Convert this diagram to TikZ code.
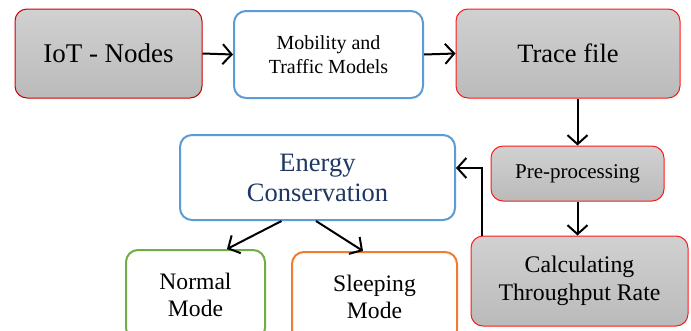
\documentclass[tikz,border=0pt]{standalone}
\usepackage{fontspec}
\setmainfont{Liberation Serif}
\usetikzlibrary{arrows.meta,calc}

\definecolor{boxred}{rgb}{0.8,0.0,0.0}
\definecolor{brightred}{rgb}{1.0,0.1,0.1}
\definecolor{boxblue}{rgb}{0.36,0.61,0.84}
\definecolor{textblue}{rgb}{0.12,0.22,0.39}
\definecolor{boxgreen}{rgb}{0.44,0.68,0.28}
\definecolor{boxorange}{rgb}{0.93,0.49,0.19}

\tikzset{every picture/.style={line width=0.75pt}}
\tikzset{
  graybox/.style={draw=brightred, line width=1pt, rounded corners=12pt, top color=black!18, bottom color=black!27, align=center, inner sep=0pt},
  whitebox/.style={line width=2pt, rounded corners=12pt, fill=white, align=center, inner sep=0pt},
  flow/.style={line width=2pt, -{Straight Barb[length=9pt,width=20pt,line width=2pt]}}
}

\begin{document}
\begin{tikzpicture}[x=1pt,y=1pt,yscale=-1,xscale=1]
\useasboundingbox (0,0) rectangle (691,330);

% Top row
\node (iot) [graybox, draw=boxred, minimum width=187pt, minimum height=89pt, font=\fontsize{27}{30}\selectfont] at (108.5,53.5) {IoT - Nodes};
\node (mobility) [whitebox, draw=boxblue, minimum width=189pt, minimum height=87pt, font=\fontsize{20}{24}\selectfont] at (328.5,54.5) {Mobility and\\Traffic Models};
\node (trace) [graybox, minimum width=224pt, minimum height=89pt, font=\fontsize{26.5}{30}\selectfont] at (568,53.5) {Trace file};

% Right column
\node (prep) [graybox, minimum width=173pt, minimum height=55pt, font=\fontsize{21}{24}\selectfont] at (577.5,173.5) {Pre-processing};
\node (calc) [graybox, minimum width=217pt, minimum height=90pt, font=\fontsize{23.8}{28}\selectfont] at (579.5,281) {Calculating\\Throughput Rate};

% Energy part
\node (energy) [whitebox, draw=boxblue, text=textblue, minimum width=275pt, minimum height=85pt, font=\fontsize{26.5}{30}\selectfont] at (317.5,177.5) {Energy\\Conservation};
\node (normal) [whitebox, draw=boxgreen, minimum width=139pt, minimum height=90pt, font=\fontsize{23.6}{27}\selectfont] at (195.5,295) {Normal\\Mode};
\node (sleeping) [whitebox, draw=boxorange, minimum width=165pt, minimum height=90pt, font=\fontsize{23.6}{27}\selectfont] at (374.5,297) {Sleeping\\Mode};

% Connectors
\draw [flow] (iot.east) -- (mobility.west);
\draw [flow] (mobility.east) -- (trace.west);
\draw [flow] (trace.south -| prep.north) -- (prep.north);
\draw [flow] (prep.south) -- (calc.north -| prep.south);
\coordinate (bend) at (482,168);
\draw [flow] (calc.north -| bend) -- (bend) -- (bend -| energy.east);
\draw [flow] ($(energy.south)+(-36,0)$) -- ($(normal.north)+(31.5,0)$);
\draw [flow] ($(energy.south)+(-1.5,0)$) -- ($(sleeping.north)+(-11.5,0)$);

\end{tikzpicture}
\end{document}
